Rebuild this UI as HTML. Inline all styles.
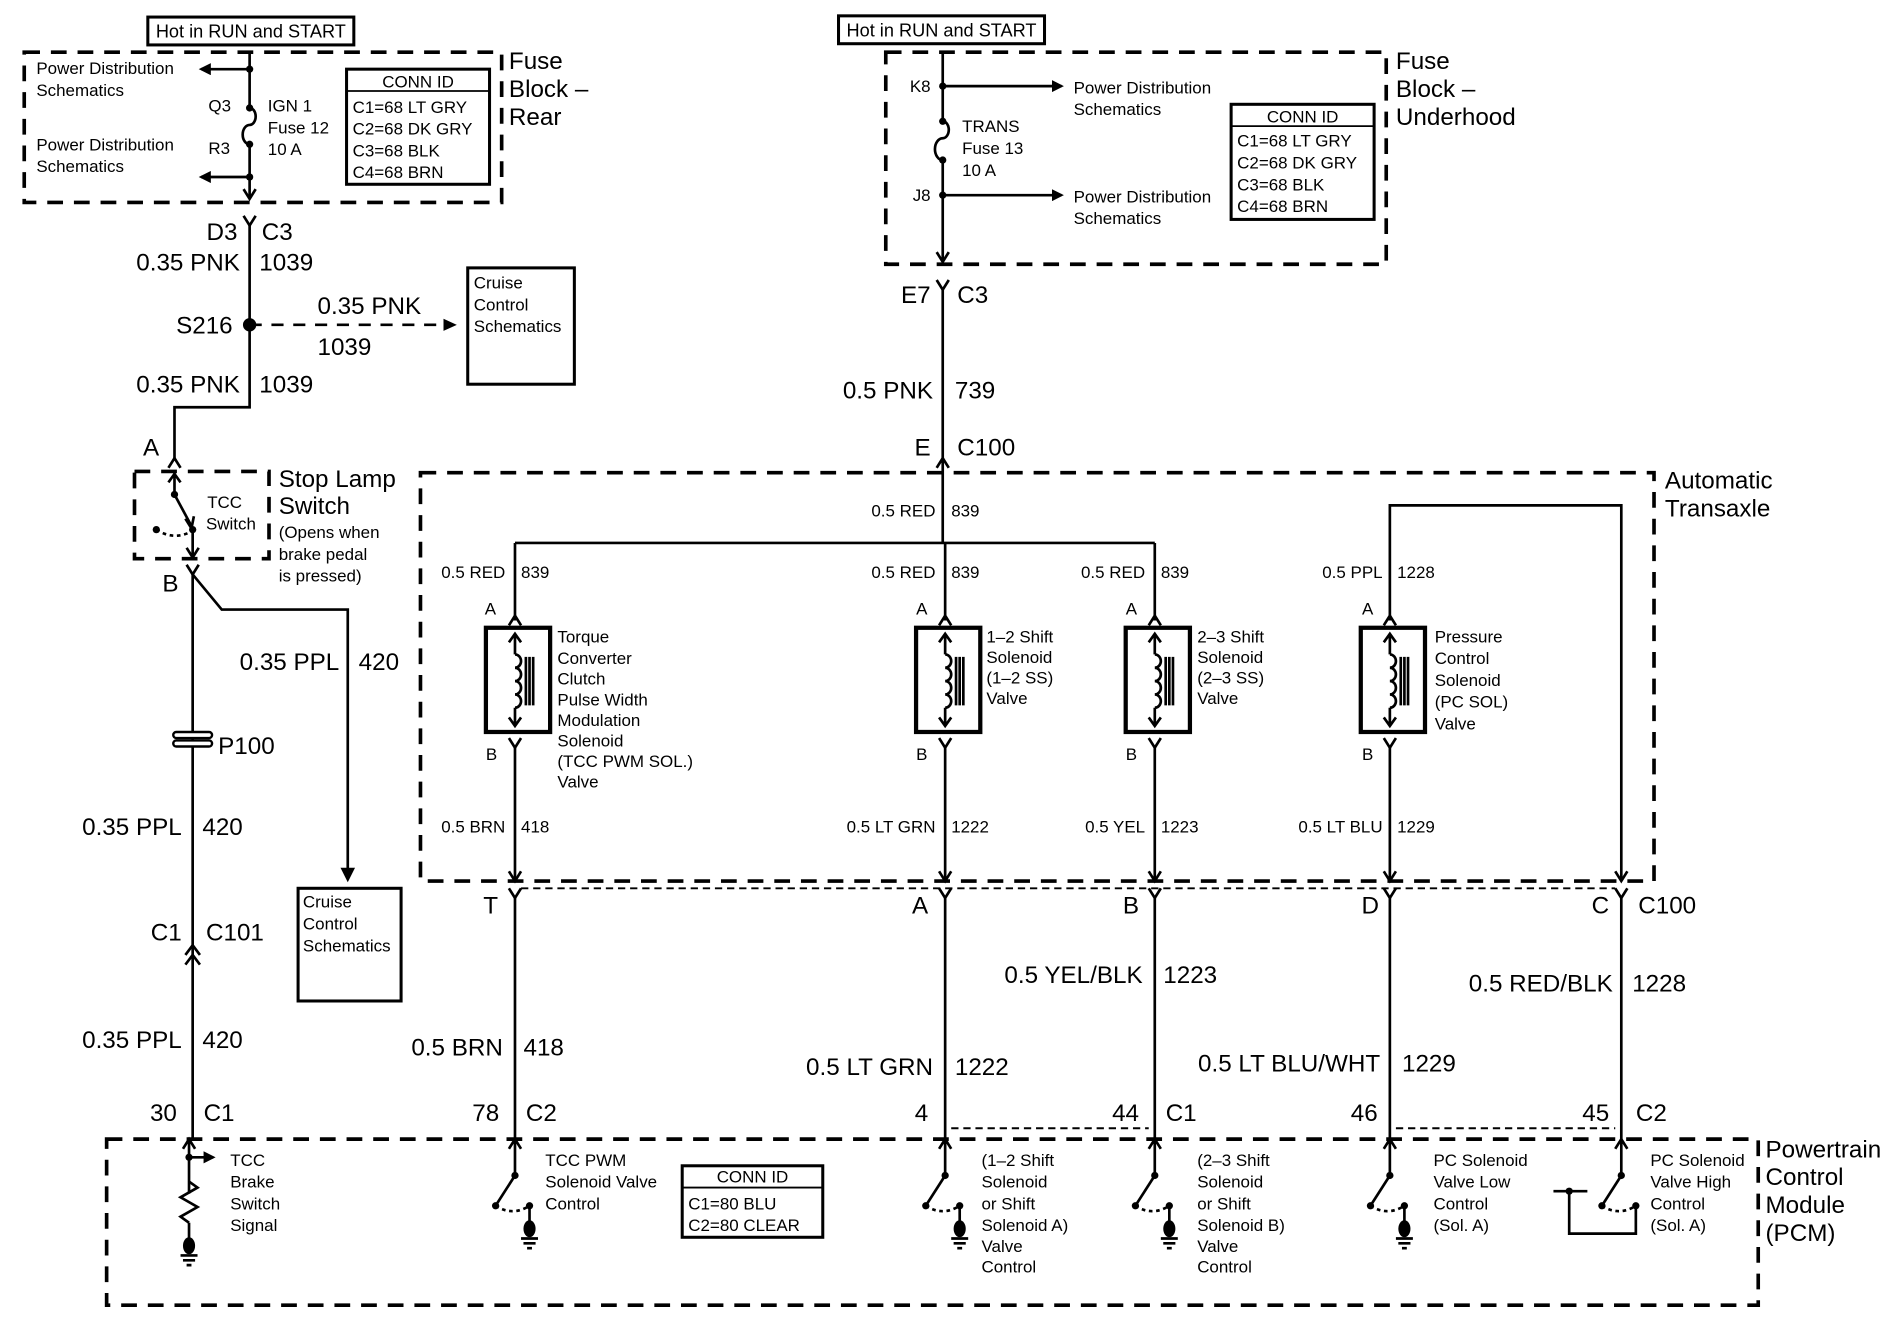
<!DOCTYPE html>
<html><head><meta charset="utf-8"><style>
html,body{margin:0;padding:0;background:#fff;}
svg{display:block;}
text{font-family:"Liberation Sans",sans-serif;fill:#000;}
.s{font-size:14px;}
.m{font-size:15px;}
.l{font-size:20px;}
.e{text-anchor:end;}
.w{stroke:#000;stroke-width:2.2;fill:none;}
.d{stroke:#000;stroke-width:3;fill:none;stroke-dasharray:13 9;}
.t{stroke:#000;stroke-width:1.6;fill:none;stroke-dasharray:6 4;}
</style></head><body>
<svg width="1900" height="1344" viewBox="0 0 1568 1109" xmlns="http://www.w3.org/2000/svg">
<defs>
<marker id="ah" markerWidth="10" markerHeight="10" refX="8" refY="5" orient="auto" markerUnits="userSpaceOnUse"><path d="M0,0 L10,5 L0,10 Z" fill="#000"/></marker>
<g id="sol">
<rect x="-24" y="0" width="53" height="86" stroke="#000" stroke-width="3.5" fill="none"/>
<path d="M0,6 V22 M0,66 V80 M-5,12 L0,5 L5,12 M-5,74 L0,81 L5,74" class="w"/>
<path d="M0,22 a5,5.5 0 0 1 0,11 a5,5.5 0 0 1 0,11 a5,5.5 0 0 1 0,11 a5,5.5 0 0 1 0,11" class="w"/>
<path d="M9,24 V64 M12,24 V64 M15,24 V64" class="w" stroke-width="1.6"/>
</g>
<g id="sw">
<path d="M0,-22 V8 M-5,-14 L0,-22 L5,-14" class="w"/>
<circle cx="0" cy="8" r="3"/>
<path d="M0,8 L-16,33" class="w"/>
<circle cx="-16" cy="33" r="3"/>
<path d="M-16,33 Q-2,42 12,33" class="w" stroke-width="1.4" stroke-dasharray="3 3"/>
<circle cx="12" cy="33" r="3"/>
</g>
<g id="gnd">
<path d="M0,0 V14" class="w"/>
<ellipse cx="0" cy="19" rx="5" ry="7"/>
<path d="M-7,27 H7 M-5,31 H5 M-2,35 H2" class="w" stroke-width="1.6"/>
</g>
<g id="upc"><path d="M-5,8 L0,0 L5,8" class="w"/></g>
<g id="yc"><path d="M-5,0 L0,8 L5,0" class="w"/></g>
</defs>

<!-- LEFT TOP -->
<rect x="122" y="14" width="170" height="23" fill="none" stroke="#000" stroke-width="2.5"/>
<text x="207" y="31" class="m" text-anchor="middle">Hot in RUN and START</text>
<rect x="20" y="43" width="394" height="124" class="d"/>
<path d="M206,43 V89 M206,119 V164" class="w"/>
<path d="M206,89 a5,7 0 0 1 0,14 a5,7 0 0 0 0,16" class="w"/>
<path d="M201,156 L206,164 L211,156" class="w"/>
<circle cx="206" cy="57" r="3"/><circle cx="206" cy="89" r="3"/><circle cx="206" cy="119" r="3"/><circle cx="206" cy="146" r="3"/>
<path d="M206,57 H166" class="w" marker-end="url(#ah)"/>
<path d="M206,146 H166" class="w" marker-end="url(#ah)"/>
<text x="30" y="61" class="s">Power Distribution</text><text x="30" y="79" class="s">Schematics</text>
<text x="30" y="124" class="s">Power Distribution</text><text x="30" y="142" class="s">Schematics</text>
<text x="172" y="92" class="s">Q3</text><text x="172" y="127" class="s">R3</text>
<text x="221" y="92" class="s">IGN 1</text><text x="221" y="110" class="s">Fuse 12</text><text x="221" y="128" class="s">10 A</text>
<rect x="286" y="57" width="118" height="95" fill="none" stroke="#000" stroke-width="2.5"/>
<path d="M286,75 H404" stroke="#000" stroke-width="1.5"/>
<text x="345" y="72" class="s" text-anchor="middle">CONN ID</text>
<text x="291" y="93" class="s">C1=68 LT GRY</text><text x="291" y="111" class="s">C2=68 DK GRY</text><text x="291" y="129" class="s">C3=68 BLK</text><text x="291" y="147" class="s">C4=68 BRN</text>
<text x="420" y="57" class="l">Fuse</text><text x="420" y="80" class="l">Block –</text><text x="420" y="103" class="l">Rear</text>

<use href="#yc" x="206" y="178"/>
<path d="M206,186 V336 H144 V380" class="w"/>
<text x="196" y="198" class="l e">D3</text><text x="216" y="198" class="l">C3</text>
<text x="198" y="223" class="l e">0.35 PNK</text><text x="214" y="223" class="l">1039</text>
<circle cx="206" cy="268" r="5.5"/>
<text x="192" y="275" class="l e">S216</text>
<path d="M206,268 H372" class="w" stroke-dasharray="10 8"/>
<path d="M366,263 L377,268 L366,273 Z"/>
<text x="262" y="259" class="l">0.35 PNK</text><text x="262" y="293" class="l">1039</text>
<rect x="386" y="221" width="88" height="96" fill="none" stroke="#000" stroke-width="2.5"/>
<text x="391" y="238" class="s">Cruise</text><text x="391" y="256" class="s">Control</text><text x="391" y="274" class="s">Schematics</text>
<text x="198" y="324" class="l e">0.35 PNK</text><text x="214" y="324" class="l">1039</text>

<!-- STOP LAMP -->
<text x="118" y="376" class="l">A</text>
<use href="#upc" x="144" y="378"/>
<rect x="111" y="389" width="111" height="72" class="d"/>
<path d="M144,389 V408 M139,398 L144,391 L149,398" class="w"/>
<circle cx="144" cy="408" r="3"/>
<path d="M144,408 L158,434" class="w"/>
<path d="M153,428 L158,436 L160,426" class="w"/>
<circle cx="159" cy="437" r="3"/><circle cx="129" cy="437" r="3"/>
<path d="M129,437 Q143,446 157,439" class="w" stroke-width="1.4" stroke-dasharray="3 3"/>
<path d="M159,437 V460 M154,452 L159,460 L164,452" class="w"/>
<text x="171" y="419" class="s">TCC</text><text x="170" y="437" class="s">Switch</text>
<text x="230" y="402" class="l">Stop Lamp</text><text x="230" y="424" class="l">Switch</text>
<text x="230" y="444" class="s">(Opens when</text><text x="230" y="462" class="s">brake pedal</text><text x="230" y="480" class="s">is pressed)</text>
<text x="134" y="488" class="l">B</text>
<use href="#yc" x="159" y="466"/>
<path d="M159,474 V940" class="w"/>
<path d="M159,474 L183,503 H287 V718" class="w"/>
<path d="M281,716 L287,728 L293,716 Z"/>
<text x="280" y="553" class="l e">0.35  PPL</text><text x="296" y="553" class="l">420</text>
<rect x="246" y="733" width="85" height="93" fill="none" stroke="#000" stroke-width="2.5"/>
<text x="250" y="749" class="s">Cruise</text><text x="250" y="767" class="s">Control</text><text x="250" y="785" class="s">Schematics</text>
<rect x="143" y="604" width="32" height="5" rx="2.5" fill="#fff" stroke="#000" stroke-width="2"/>
<rect x="143" y="611" width="32" height="5" rx="2.5" fill="#fff" stroke="#000" stroke-width="2"/>
<text x="180" y="622" class="l">P100</text>
<text x="150" y="689" class="l e">0.35  PPL</text><text x="167" y="689" class="l">420</text>
<path d="M153,788 L159,780 L165,788 M153,796 L159,788 L165,796" class="w"/>
<text x="150" y="776" class="l e">C1</text><text x="170" y="776" class="l">C101</text>
<text x="150" y="865" class="l e">0.35  PPL</text><text x="167" y="865" class="l">420</text>
<text x="146" y="925" class="l e">30</text><text x="168" y="925" class="l">C1</text>

<!-- CENTER TOP -->
<rect x="692" y="13" width="170" height="23" fill="none" stroke="#000" stroke-width="2.5"/>
<text x="777" y="30" class="m" text-anchor="middle">Hot in RUN and START</text>
<rect x="731" y="43" width="413" height="175" class="d"/>
<path d="M778,43 V100 M778,132 V216" class="w"/>
<path d="M778,100 a5,7 0 0 1 0,14 a5,7 0 0 0 0,18" class="w"/>
<path d="M773,208 L778,216 L783,208" class="w"/>
<circle cx="778" cy="71" r="3"/><circle cx="778" cy="100" r="3"/><circle cx="778" cy="132" r="3"/><circle cx="778" cy="161" r="3"/>
<path d="M778,71 H876" class="w" marker-end="url(#ah)"/>
<path d="M778,161 H876" class="w" marker-end="url(#ah)"/>
<text x="768" y="76" class="s e">K8</text><text x="768" y="166" class="s e">J8</text>
<text x="794" y="109" class="s">TRANS</text><text x="794" y="127" class="s">Fuse 13</text><text x="794" y="145" class="s">10 A</text>
<text x="886" y="77" class="s">Power Distribution</text><text x="886" y="95" class="s">Schematics</text>
<text x="886" y="167" class="s">Power Distribution</text><text x="886" y="185" class="s">Schematics</text>
<rect x="1016" y="86" width="118" height="95" fill="none" stroke="#000" stroke-width="2.5"/>
<path d="M1016,104 H1134" stroke="#000" stroke-width="1.5"/>
<text x="1075" y="101" class="s" text-anchor="middle">CONN ID</text>
<text x="1021" y="121" class="s">C1=68 LT GRY</text><text x="1021" y="139" class="s">C2=68 DK GRY</text><text x="1021" y="157" class="s">C3=68 BLK</text><text x="1021" y="175" class="s">C4=68 BRN</text>
<text x="1152" y="57" class="l">Fuse</text><text x="1152" y="80" class="l">Block –</text><text x="1152" y="103" class="l">Underhood</text>
<use href="#yc" x="778" y="231"/>
<path d="M778,239 V448" class="w"/>
<text x="768" y="250" class="l e">E7</text><text x="790" y="250" class="l">C3</text>
<text x="770" y="329" class="l e">0.5 PNK</text><text x="788" y="329" class="l">739</text>
<text x="768" y="376" class="l e">E</text><text x="790" y="376" class="l">C100</text>
<use href="#upc" x="778" y="378"/>

<!-- AUTO TRANSAXLE -->
<rect x="347" y="390" width="1018" height="337" class="d"/>
<text x="1374" y="403" class="l">Automatic</text><text x="1374" y="426" class="l">Transaxle</text>
<path d="M425,448 H953" class="w"/>
<text x="772" y="426" class="s e">0.5 RED</text><text x="785" y="426" class="s">839</text>
<path d="M425,448 V512 M780,448 V512 M953,448 V512 M1147,512 V417 H1338 V727" class="w"/>
<text x="417" y="477" class="s e">0.5 RED</text><text x="430" y="477" class="s">839</text>
<text x="772" y="477" class="s e">0.5 RED</text><text x="785" y="477" class="s">839</text>
<text x="945" y="477" class="s e">0.5 RED</text><text x="958" y="477" class="s">839</text>
<text x="1141" y="477" class="s e">0.5 PPL</text><text x="1153" y="477" class="s">1228</text>
<use href="#upc" x="425" y="508"/><use href="#upc" x="780" y="508"/><use href="#upc" x="953" y="508"/><use href="#upc" x="1147" y="508"/>
<use href="#sol" x="425" y="518"/><use href="#sol" x="780" y="518"/><use href="#sol" x="953" y="518"/><use href="#sol" x="1147" y="518"/>
<use href="#yc" x="425" y="609"/><use href="#yc" x="780" y="609"/><use href="#yc" x="953" y="609"/><use href="#yc" x="1147" y="609"/>
<path d="M425,617 V727 M780,617 V727 M953,617 V727 M1147,617 V727" class="w"/>
<path d="M420,719 L425,727 L430,719 M775,719 L780,727 L785,719 M948,719 L953,727 L958,719 M1142,719 L1147,727 L1152,719 M1333,719 L1338,727 L1343,719" class="w"/>
<text x="400" y="507" class="s">A</text><text x="756" y="507" class="s">A</text><text x="929" y="507" class="s">A</text><text x="1124" y="507" class="s">A</text>
<text x="401" y="627" class="s">B</text><text x="756" y="627" class="s">B</text><text x="929" y="627" class="s">B</text><text x="1124" y="627" class="s">B</text>
<text x="460" y="530" class="s">Torque</text><text x="460" y="548" class="s">Converter</text><text x="460" y="565" class="s">Clutch</text><text x="460" y="582" class="s">Pulse Width</text><text x="460" y="599" class="s">Modulation</text><text x="460" y="616" class="s">Solenoid</text><text x="460" y="633" class="s">(TCC PWM SOL.)</text><text x="460" y="650" class="s">Valve</text>
<text x="814" y="530" class="s">1–2 Shift</text><text x="814" y="547" class="s">Solenoid</text><text x="814" y="564" class="s">(1–2 SS)</text><text x="814" y="581" class="s">Valve</text>
<text x="988" y="530" class="s">2–3 Shift</text><text x="988" y="547" class="s">Solenoid</text><text x="988" y="564" class="s">(2–3 SS)</text><text x="988" y="581" class="s">Valve</text>
<text x="1184" y="530" class="s">Pressure</text><text x="1184" y="548" class="s">Control</text><text x="1184" y="566" class="s">Solenoid</text><text x="1184" y="584" class="s">(PC SOL)</text><text x="1184" y="602" class="s">Valve</text>
<text x="417" y="687" class="s e">0.5 BRN</text><text x="430" y="687" class="s">418</text>
<text x="772" y="687" class="s e">0.5 LT GRN</text><text x="785" y="687" class="s">1222</text>
<text x="945" y="687" class="s e">0.5 YEL</text><text x="958" y="687" class="s">1223</text>
<text x="1141" y="687" class="s e">0.5 LT BLU</text><text x="1153" y="687" class="s">1229</text>

<!-- C100 bottom -->
<path d="M430,733 H1333" class="t"/>
<use href="#yc" x="425" y="733"/><use href="#yc" x="780" y="733"/><use href="#yc" x="953" y="733"/><use href="#yc" x="1147" y="733"/><use href="#yc" x="1338" y="733"/>
<path d="M425,741 V940 M780,741 V940 M953,741 V940 M1147,741 V940 M1338,741 V940" class="w"/>
<text x="411" y="754" class="l e">T</text><text x="766" y="754" class="l e">A</text><text x="940" y="754" class="l e">B</text><text x="1138" y="754" class="l e">D</text><text x="1328" y="754" class="l e">C</text><text x="1352" y="754" class="l">C100</text>
<text x="943" y="811" class="l e">0.5 YEL/BLK</text><text x="960" y="811" class="l">1223</text>
<text x="1331" y="818" class="l e">0.5 RED/BLK</text><text x="1347" y="818" class="l">1228</text>
<text x="415" y="871" class="l e">0.5 BRN</text><text x="432" y="871" class="l">418</text>
<text x="770" y="887" class="l e">0.5 LT GRN</text><text x="788" y="887" class="l">1222</text>
<text x="1139" y="884" class="l e">0.5 LT BLU/WHT</text><text x="1157" y="884" class="l">1229</text>
<text x="412" y="925" class="l e">78</text><text x="434" y="925" class="l">C2</text>
<text x="766" y="925" class="l e">4</text>
<text x="940" y="925" class="l e">44</text><text x="962" y="925" class="l">C1</text>
<text x="1137" y="925" class="l e">46</text>
<text x="1328" y="925" class="l e">45</text><text x="1350" y="925" class="l">C2</text>
<path d="M785,931 H948 M1152,931 H1333" class="t"/>

<!-- PCM -->
<rect x="88" y="940" width="1363" height="137" class="d"/>
<text x="1457" y="955" class="l">Powertrain</text><text x="1457" y="978" class="l">Control</text><text x="1457" y="1001" class="l">Module</text><text x="1457" y="1024" class="l">(PCM)</text>
<path d="M156,940 V985 M151,948 L156,940 L161,948" class="w"/>
<circle cx="156" cy="955" r="3"/>
<path d="M156,955 H176" class="w" marker-end="url(#ah)"/>
<path d="M156,975 l7,5 l-14,8 l14,8 l-14,8 l7,5" class="w"/>
<use href="#gnd" x="156" y="1009"/>
<text x="190" y="962" class="s">TCC</text><text x="190" y="980" class="s">Brake</text><text x="190" y="998" class="s">Switch</text><text x="190" y="1016" class="s">Signal</text>
<use href="#sw" x="425" y="962"/><use href="#gnd" x="437" y="995"/>
<text x="450" y="962" class="s">TCC PWM</text><text x="450" y="980" class="s">Solenoid Valve</text><text x="450" y="998" class="s">Control</text>
<rect x="563" y="962" width="116" height="59" fill="none" stroke="#000" stroke-width="2.5"/>
<path d="M563,980 H679" stroke="#000" stroke-width="1.5"/>
<text x="621" y="976" class="s" text-anchor="middle">CONN ID</text>
<text x="568" y="998" class="s">C1=80 BLU</text><text x="568" y="1016" class="s">C2=80 CLEAR</text>
<use href="#sw" x="780" y="962"/><use href="#gnd" x="792" y="995"/>
<text x="810" y="962" class="s">(1–2 Shift</text><text x="810" y="980" class="s">Solenoid</text><text x="810" y="998" class="s">or Shift</text><text x="810" y="1016" class="s">Solenoid A)</text><text x="810" y="1033" class="s">Valve</text><text x="810" y="1050" class="s">Control</text>
<use href="#sw" x="953" y="962"/><use href="#gnd" x="965" y="995"/>
<text x="988" y="962" class="s">(2–3 Shift</text><text x="988" y="980" class="s">Solenoid</text><text x="988" y="998" class="s">or Shift</text><text x="988" y="1016" class="s">Solenoid B)</text><text x="988" y="1033" class="s">Valve</text><text x="988" y="1050" class="s">Control</text>
<use href="#sw" x="1147" y="962"/><use href="#gnd" x="1159" y="995"/>
<text x="1183" y="962" class="s">PC Solenoid</text><text x="1183" y="980" class="s">Valve Low</text><text x="1183" y="998" class="s">Control</text><text x="1183" y="1016" class="s">(Sol. A)</text>
<use href="#sw" x="1338" y="962"/>
<path d="M1350,995 V1018 H1295 V983 M1282,983 H1310" class="w"/>
<circle cx="1295" cy="983" r="3"/>
<text x="1362" y="962" class="s">PC Solenoid</text><text x="1362" y="980" class="s">Valve High</text><text x="1362" y="998" class="s">Control</text><text x="1362" y="1016" class="s">(Sol. A)</text>
</svg>
</body></html>
